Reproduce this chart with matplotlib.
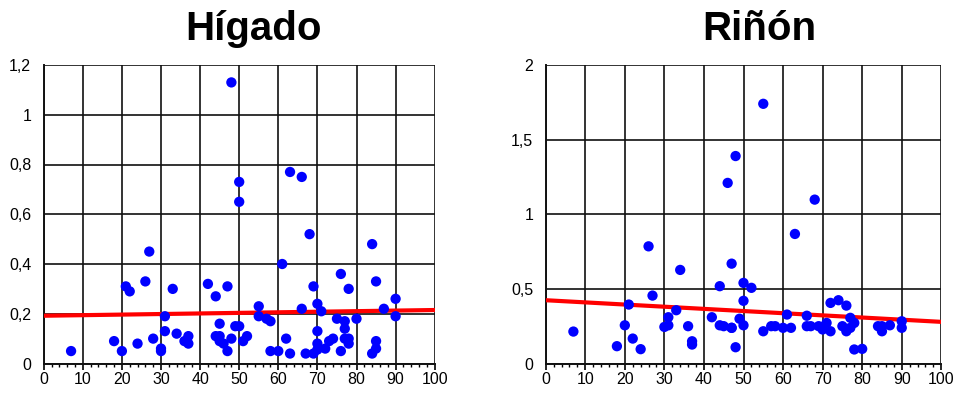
import matplotlib.pyplot as plt
from matplotlib.ticker import MultipleLocator, FuncFormatter

plt.rcParams['font.family'] = ['Liberation Sans', 'DejaVu Sans']

# Hígado data
hig_x = [48, 50, 50, 27, 21, 22, 26, 33, 42, 47, 44, 31, 45, 49, 50, 31, 34, 37, 36, 37,
         28, 18, 24, 7, 20, 30, 30, 44, 45, 45, 46, 47, 48,
         63, 66, 68, 61, 84, 76, 85, 69, 78, 90, 55, 66, 70, 71, 87, 55, 57, 58, 90,
         75, 77, 80, 77, 52, 51, 62, 70, 77, 78, 78, 74, 73, 70, 85, 85, 84,
         58, 60, 63, 67, 69, 70, 72, 76]
hig_y = [1.13, 0.73, 0.65, 0.45, 0.31, 0.29, 0.33, 0.30, 0.32, 0.31, 0.27, 0.19, 0.16, 0.15, 0.15, 0.13, 0.12, 0.11, 0.09, 0.08,
         0.10, 0.09, 0.08, 0.05, 0.05, 0.06, 0.05, 0.11, 0.11, 0.09, 0.08, 0.05, 0.10,
         0.77, 0.75, 0.52, 0.40, 0.48, 0.36, 0.33, 0.31, 0.30, 0.26, 0.23, 0.22, 0.24, 0.21, 0.22, 0.19, 0.18, 0.17, 0.19,
         0.18, 0.17, 0.18, 0.14, 0.11, 0.09, 0.10, 0.13, 0.10, 0.10, 0.08, 0.10, 0.09, 0.08, 0.09, 0.06, 0.04,
         0.05, 0.05, 0.04, 0.04, 0.04, 0.056, 0.06, 0.05]
hig_trend = [0.192, 0.215]

# Riñón data
rin_x = [48, 46, 26, 34, 47, 44, 27, 21, 33, 31, 42, 20, 30, 31, 36, 44, 45, 47, 7, 22, 18, 24, 37, 37, 48,
         55, 68, 63, 50, 52, 50, 49, 50, 47,
         55, 57, 58, 60, 62, 61, 66, 66, 67, 69, 70, 71, 72, 72, 74, 76,
         75, 76, 77, 78, 77, 78, 80, 84, 85, 85, 87, 90, 90]
rin_y = [1.39, 1.21, 0.785, 0.627, 0.669, 0.518, 0.455, 0.395, 0.357, 0.31, 0.31, 0.256, 0.245, 0.256, 0.25, 0.256, 0.25, 0.239, 0.214, 0.167, 0.116, 0.096, 0.149, 0.127, 0.109,
         1.74, 1.098, 0.868, 0.54, 0.507, 0.42, 0.30, 0.256, 0.239,
         0.216, 0.25, 0.25, 0.239, 0.239, 0.328, 0.32, 0.25, 0.25, 0.25, 0.228, 0.272, 0.216, 0.406, 0.424, 0.388,
         0.25, 0.216, 0.306, 0.272, 0.239, 0.094, 0.098, 0.25, 0.216, 0.25, 0.256, 0.283, 0.239]
rin_trend = [0.424, 0.279]


def comma(v, pos):
    s = ('%.1f' % v).rstrip('0').rstrip('.')
    return s.replace('.', ',')


def panel(ax, xs, ys, trend, ymax, ystep):
    ax.set_xlim(0, 100)
    ax.set_ylim(0, ymax)
    ax.xaxis.set_major_locator(MultipleLocator(10))
    ax.xaxis.set_minor_locator(MultipleLocator(2))
    ax.yaxis.set_major_locator(MultipleLocator(ystep))
    ax.yaxis.set_major_formatter(FuncFormatter(comma))
    ax.grid(True, which='major', color='#111111', linewidth=1.2)
    ax.set_axisbelow(True)
    for side in ['top', 'right']:
        ax.spines[side].set_visible(False)
    for side in ['left', 'bottom']:
        ax.spines[side].set_linewidth(1.4)
        ax.spines[side].set_color('#111111')
    ax.tick_params(axis='x', which='major', direction='out', length=4, width=1.2, labelsize=11.5, pad=2)
    ax.tick_params(axis='x', which='minor', direction='out', length=2.5, width=1.0)
    ax.tick_params(axis='y', which='major', length=0, labelsize=11.5, pad=9)
    ax.plot([0, 100], trend, color='#ff0000', linewidth=3, zorder=3)
    ax.scatter(xs, ys, s=55, color='#0000ff', edgecolors='none', zorder=4)


fig = plt.figure(figsize=(9.56, 3.94), dpi=100)
H = 394.0
W = 956.0
bot = (H - 363.5) / H
hgt = (363.5 - 65) / H
ax1 = fig.add_axes([43.7 / W, bot, (434.7 - 43.7) / W, hgt])
ax2 = fig.add_axes([545.7 / W, bot, (941.3 - 545.7) / W, hgt])

panel(ax1, hig_x, hig_y, hig_trend, 1.2, 0.2)
panel(ax2, rin_x, rin_y, rin_trend, 2.0, 0.5)

fig.text(253 / W, 1 - 29 / H, 'Hígado', ha='center', va='center', fontsize=29, fontweight='bold')
fig.text(759 / W, 1 - 29 / H, 'Riñón', ha='center', va='center', fontsize=29, fontweight='bold')

fig.savefig('out.png', dpi=100)
